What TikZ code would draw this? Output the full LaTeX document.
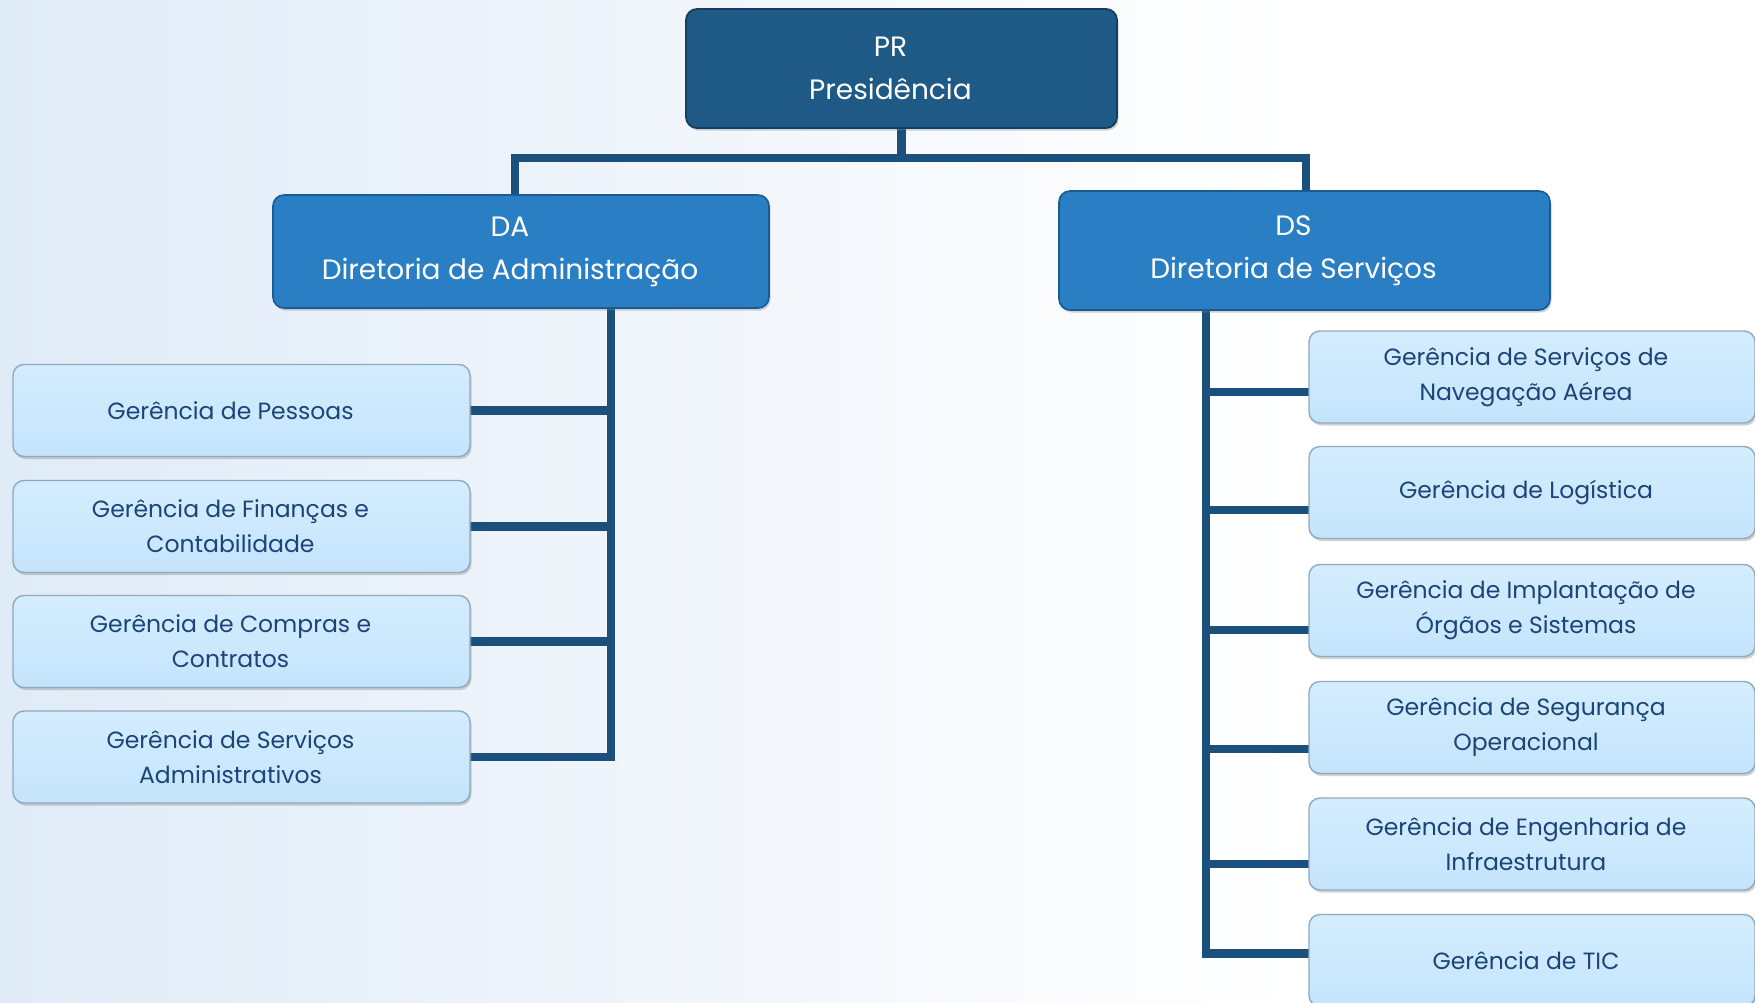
\documentclass[tikz,border=0pt]{standalone}
\usepackage{fontspec}
\setmainfont{Poppins}
\usetikzlibrary{shadows,calc}

\definecolor{bgblue}{HTML}{DFEBF7}
\definecolor{bgmid}{HTML}{F0F5FB}
\definecolor{lboxfill}{HTML}{C4E4FC}
\definecolor{lboxtop}{HTML}{D4EDFE}
\definecolor{lboxedge}{HTML}{8FA9BF}
\definecolor{ltext}{HTML}{1C4478}
\definecolor{dboxfill}{HTML}{2A7FC4}
\definecolor{dboxedge}{HTML}{1B5A92}
\definecolor{pboxfill}{HTML}{1F5A87}
\definecolor{pboxedge}{HTML}{153F60}
\definecolor{connblue}{HTML}{1B4F7C}

\pgfdeclarelayer{bglayer}
\pgfdeclarelayer{connlayer}
\pgfsetlayers{bglayer,connlayer,main}

\begin{document}
\begin{tikzpicture}[x=1pt,y=-1pt,
  % text sits a little left of the box centre: pad the text block on the right
  textpad/.style={execute at end node={\hspace*{#1}}},
  boxbase/.style={rounded corners=11pt, align=center, inner sep=0pt,
    drop shadow={opacity=0.35, shadow xshift=1.5pt, shadow yshift=-2.5pt}},
  lbox/.style={boxbase, draw=lboxedge, line width=1.4pt,
    top color=lboxtop, bottom color=lboxfill, text=ltext,
    font=\fontsize{23.5}{35}\selectfont, minimum height=92pt},
  leftbox/.style={lbox, minimum width=457pt, textpad=22pt},
  rightbox/.style={lbox, minimum width=446pt, textpad=12pt},
  dbox/.style={boxbase, draw=dboxedge, line width=1.6pt, fill=dboxfill,
    text=white, font=\fontsize{28}{43}\selectfont, textpad=22pt},
  pbox/.style={boxbase, draw=pboxedge, line width=1.8pt, fill=pboxfill,
    text=white, font=\fontsize{28}{43}\selectfont, textpad=22pt},
  conn/.style={draw=connblue, line width=8.5pt, line cap=rect}
]
% page frame
\clip (0,0) rectangle (1755,1002);

% helper coordinates for the connector lines
\coordinate (bar) at (0,158);
\coordinate (ltrunk) at (611,0);
\coordinate (rtrunk) at (1206,0);

% boxes
\node[pbox, minimum width=431pt, minimum height=119pt] (pr) at (901.5,68.5) {PR\\Presidência};
\node[dbox, minimum width=496pt, minimum height=113pt] (da) at (521,251.5) {DA\\Diretoria de Administração};
\node[dbox, minimum width=491pt, minimum height=119pt] (ds) at (1304.5,250.5) {DS\\Diretoria de Serviços};

\node[leftbox] (g1) at (241.5,410.5) {Gerência de Pessoas};
\node[leftbox] (g2) at (241.5,526.5) {Gerência de Finanças e\\Contabilidade};
\node[leftbox] (g3) at (241.5,641.5) {Gerência de Compras e\\Contratos};
\node[leftbox] (g4) at (241.5,757) {Gerência de Serviços\\Administrativos};

\node[rightbox] (s1) at (1532,377) {Gerência de Serviços de\\Navegação Aérea};
\node[rightbox] (s2) at (1532,492.5) {Gerência de Logística};
\node[rightbox] (s3) at (1532,610.5) {Gerência de Implantação de\\Órgãos e Sistemas};
\node[rightbox] (s4) at (1532,727.5) {Gerência de Segurança\\Operacional};
\node[rightbox] (s5) at (1532,844) {Gerência de Engenharia de\\Infraestrutura};
\node[rightbox] (s6) at (1532,960.5) {Gerência de TIC};

% background gradient
\begin{pgfonlayer}{bglayer}
  \fill[white] (0,0) rectangle (1755,1002);
  \shade[left color=bgblue, right color=white, middle color=bgmid] (0,0) rectangle (1300,1002);
\end{pgfonlayer}

% connectors, drawn beneath the boxes
\begin{pgfonlayer}{connlayer}
  % presidency to the two directorates
  \draw[conn] (pr.south) -- (pr.south |- bar);
  \draw[conn] ([xshift=-6pt]da.north) -- ([xshift=-6pt]da.north |- bar)
              -- ([xshift=1.5pt]ds.north |- bar) -- ([xshift=1.5pt]ds.north);
  % administration branch
  \draw[conn] (da.south -| ltrunk) -- (g4.east -| ltrunk);
  \foreach \g in {g1,g2,g3,g4}
    \draw[conn] (\g.east) -- (\g.east -| ltrunk);
  % services branch
  \draw[conn] (ds.south -| rtrunk) -- ([yshift=7pt]s6.west -| rtrunk);
  \foreach \s/\dy in {s1/-15,s2/-17.5,s3/-19.5,s4/-21.5,s5/-20,s6/7}
    \draw[conn] ([yshift=\dy pt]\s.west) -- ([yshift=\dy pt]\s.west -| rtrunk);
\end{pgfonlayer}
\end{tikzpicture}
\end{document}
